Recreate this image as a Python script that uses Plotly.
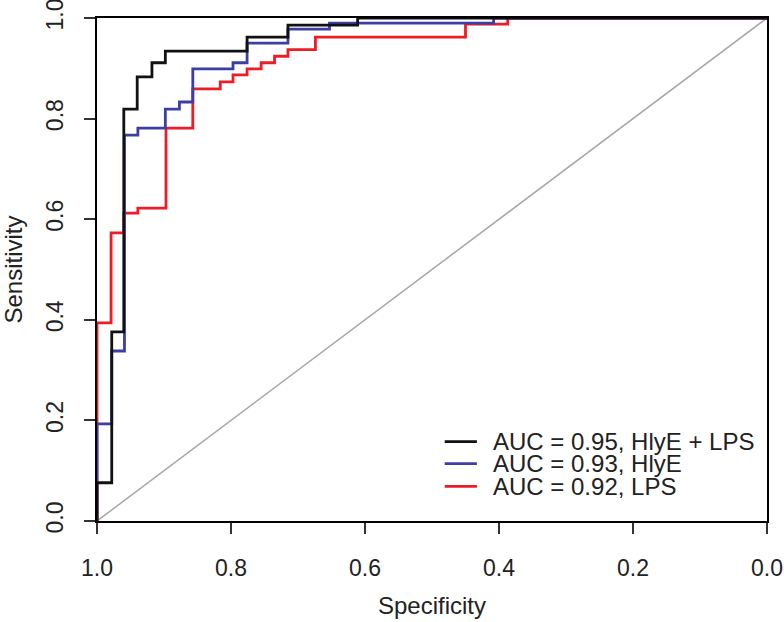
import plotly.graph_objects as go

# ROC curves (corner points, stepped "hv")
combo_spec = [1.0, 1.0, 0.978, 0.960, 0.940, 0.918, 0.898, 0.776, 0.715, 0.611, 0.0]
combo_sens = [0.0, 0.076, 0.376, 0.819, 0.883, 0.911, 0.934, 0.962, 0.986, 1.0, 1.0]

hlye_spec = [1.0, 1.0, 0.978, 0.959, 0.939, 0.898, 0.877, 0.857, 0.797, 0.776, 0.715, 0.653, 0.408, 0.0]
hlye_sens = [0.0, 0.193, 0.338, 0.767, 0.781, 0.819, 0.833, 0.899, 0.911, 0.950, 0.978, 0.990, 1.0, 1.0]

lps_spec = [1.0, 1.0, 0.979, 0.960, 0.939, 0.897, 0.857, 0.816, 0.797, 0.776, 0.755, 0.735,
            0.715, 0.674, 0.450, 0.387, 0.0]
lps_sens = [0.0, 0.394, 0.573, 0.612, 0.622, 0.781, 0.859, 0.873, 0.887, 0.899, 0.911, 0.924,
            0.937, 0.962, 0.988, 1.0, 1.0]

diag_spec = [1.0, 0.0]
diag_sens = [0.0, 1.0]

tick_vals = [0.0, 0.2, 0.4, 0.6, 0.8, 1.0]
tick_text = ["0.0", "0.2", "0.4", "0.6", "0.8", "1.0"]

labels = ["AUC = 0.95, HlyE + LPS", "AUC = 0.93, HlyE", "AUC = 0.92, LPS"]
colors = ["#111111", "#3c3ea6", "#ee1c25"]

FONT = "Liberation Sans, Arial, sans-serif"
TXT = "#222222"

fig = go.Figure()
fig.add_trace(go.Scatter(x=diag_spec, y=diag_sens, mode="lines",
                         line=dict(color="#a6a6a6", width=1.5), showlegend=False))
# draw in reverse so black ends on top
series = [(combo_spec, combo_sens), (hlye_spec, hlye_sens), (lps_spec, lps_sens)]
for (sx, sy), col in reversed(list(zip(series, colors))):
    fig.add_trace(go.Scatter(x=sx, y=sy, mode="lines", line_shape="hv",
                             line=dict(color=col, width=2.8), showlegend=False))

# legend without box, tight rows like base R
leg_y = [0.158, 0.114, 0.069]
for lab, col, yy in zip(labels, colors, leg_y):
    fig.add_shape(type="line", xref="paper", yref="paper", x0=0.519, x1=0.567, y0=yy, y1=yy,
                  line=dict(color=col, width=2.8))
    fig.add_annotation(text=lab, xref="paper", yref="paper", x=0.588, y=yy,
                       xanchor="left", yanchor="middle", showarrow=False,
                       font=dict(family=FONT, size=24, color=TXT))

axis_common = dict(
    showline=True, mirror=True, linecolor="black", linewidth=2,
    ticks="outside", ticklen=11, tickwidth=1.5, tickcolor="#333333",
    showgrid=False, zeroline=False, automargin=False,
    tickfont=dict(family=FONT, size=23, color=TXT),
    tickmode="array", tickvals=tick_vals, ticktext=tick_text,
    ticklabeloverflow="allow",
)

fig.update_xaxes(range=[1.0, 0.0], ticklabelstandoff=14,
                 title=dict(text="Specificity", font=dict(family=FONT, size=24, color=TXT), standoff=18),
                 **axis_common)
fig.update_yaxes(range=[0.0, 1.0], tickangle=-90, ticklabelstandoff=12,
                 title=dict(text="Sensitivity", font=dict(family=FONT, size=24, color=TXT), standoff=14),
                 **axis_common)

fig.update_layout(
    width=784, height=622,
    margin=dict(l=97, r=17, t=18, b=101),
    plot_bgcolor="white", paper_bgcolor="white",
    font=dict(family=FONT, color=TXT),
)

# drop the page's default body margin so the figure sits at the window corner
fig.write_html("out.html", config={"displayModeBar": False},
               post_script="document.body.style.margin='0';")
